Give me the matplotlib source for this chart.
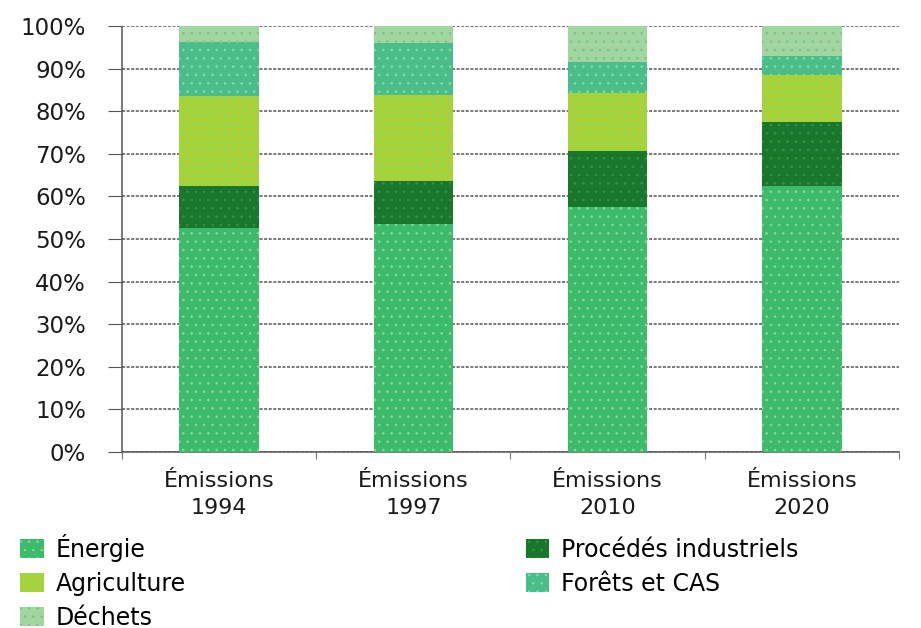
import matplotlib
matplotlib.use("Agg")
import matplotlib.pyplot as plt
import numpy as np

# ── Data (shares of total emissions, %) ──
categories = ["Émissions\n1994", "Émissions\n1997", "Émissions\n2010", "Émissions\n2020"]
energie = [52.5, 53.5, 57.4, 62.5]
procedes = [10.0, 10.0, 13.3, 14.9]
agriculture = [21.0, 20.3, 13.6, 11.1]
forets = [12.7, 12.3, 7.3, 4.5]
dechets = [3.8, 3.9, 8.4, 7.0]

series = [
    ("Énergie", energie, "#3dba6c", "#7fe08f"),
    ("Procédés industriels", procedes, "#18772c", "#2f9440"),
    ("Agriculture", agriculture, "#a8d23a", "#7fe060"),
    ("Forêts et CAS", forets, "#4bbd8b", "#7fe0a0"),
    ("Déchets", dechets, "#a2d6a0", "#7cc48a"),
]
y_ticks = [0, 10, 20, 30, 40, 50, 60, 70, 80, 90, 100]

plt.rcParams["font.family"] = ["DejaVu Sans"]
plt.rcParams["hatch.linewidth"] = 0.6

fig = plt.figure(figsize=(9.21, 6.28), dpi=100)
ax = fig.add_axes([0.1325, 0.2803, 0.8435, 0.6783])

x = np.arange(len(categories))
bottom = np.zeros(len(categories))
handles = {}
for name, vals, color, dot in series:
    bars = ax.bar(x, vals, width=0.41, bottom=bottom, color=color,
                  edgecolor=dot, linewidth=0, hatch="..", zorder=3)
    handles[name] = bars
    bottom += np.array(vals)

ax.set_xlim(-0.5, 3.5)
ax.set_ylim(0, 100)
ax.set_yticks(y_ticks)
ax.set_yticklabels([f"{v}%" for v in y_ticks], fontsize=16.5, color="#1a1a1a")
ax.yaxis.grid(True, color="#555555", linestyle=(0, (2, 1)), linewidth=1.1, zorder=0)

ax.set_xticks(x)
ax.set_xticklabels(categories, fontsize=16, linespacing=1.4, color="#1a1a1a")
ax.set_xticks(np.arange(-0.5, 4, 1), minor=True)
ax.tick_params(axis="x", which="major", length=0, pad=14)
ax.tick_params(axis="x", which="minor", length=5, color="#555555")
ax.tick_params(axis="y", length=10, color="#555555", pad=16)

for side in ["top", "right"]:
    ax.spines[side].set_visible(False)
for side in ["left", "bottom"]:
    ax.spines[side].set_color("#555555")
    ax.spines[side].set_linestyle((0, (2, 1)))
    ax.spines[side].set_linewidth(1.1)

order = ["Énergie", "Agriculture", "Déchets", "Procédés industriels", "Forêts et CAS"]
fig.legend([handles[n] for n in order], order, loc="upper left",
           bbox_to_anchor=(0.022, 0.15), ncol=2, frameon=False,
           fontsize=17, handlelength=1.0, handleheight=0.85,
           handletextpad=0.5, columnspacing=14.4, labelspacing=0.42,
           borderaxespad=0, borderpad=0)

fig.savefig("out.png", dpi=100)
